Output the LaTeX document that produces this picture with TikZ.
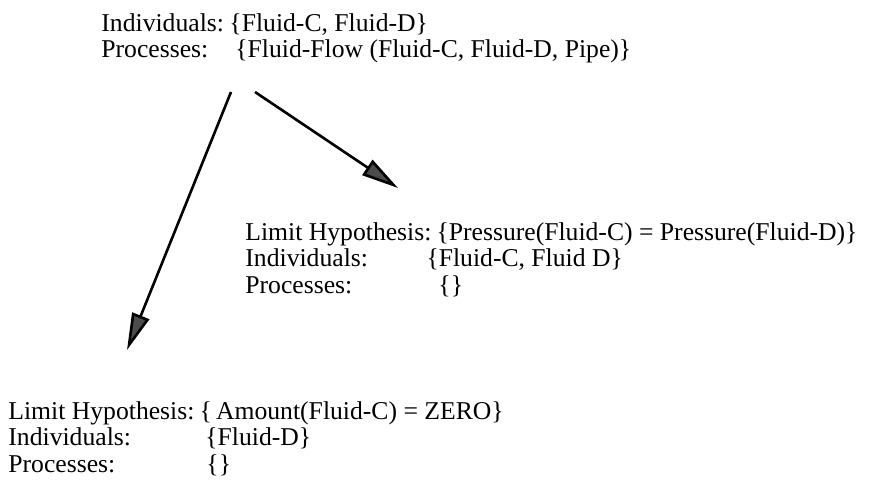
\documentclass[tikz,border=0pt]{standalone}
\usepackage{fontspec}
\setmainfont{Liberation Serif}
\usetikzlibrary{arrows.meta}
% label padded to a fixed width, so the sets line up in a column
\newcommand{\fieldlabel}[2]{\makebox[#1][l]{#2}}
\begin{document}
\begin{tikzpicture}[x=0.46pt,y=-0.46pt,
    state/.style={anchor=base west,inner sep=0pt,align=left,
      font=\fontsize{11.8}{12}\selectfont},
    branch/.style={line width=1.2pt,
      -{Triangle[length=17pt,width=8.3pt,fill=black!70]}}]
  \useasboundingbox (0,0) rectangle (885,490);
  % the three states (placed by the baseline of their last line)
  \node[state] (flow) at (101,58)
    {\fieldlabel{58.9pt}{Individuals:}\{Fluid-C, Fluid-D\}\\
     \fieldlabel{61.6pt}{Processes:}\{Fluid-Flow (Fluid-C, Fluid-D, Pipe)\}};
  \node[state] (equal) at (245,293)
    {\fieldlabel{87.9pt}{Limit Hypothesis:}\{Pressure(Fluid-C) = Pressure(Fluid-D)\}\\
     \fieldlabel{83.3pt}{Individuals:}\{Fluid-C, Fluid D\}\\
     \fieldlabel{88.8pt}{Processes:}\{\}};
  \node[state] (empty) at (8,472)
    {\fieldlabel{87.9pt}{Limit Hypothesis:}\{\,Amount(Fluid-C) = ZERO\}\\
     \fieldlabel{90.6pt}{Individuals:}\{Fluid-D\}\\
     \fieldlabel{91.1pt}{Processes:}\{\}};
  % arrow ends
  \coordinate (flowleft) at (231,92);
  \coordinate (flowright) at (255,92);
  \coordinate (equalin) at (398,188);
  \coordinate (emptyin) at (127,350);
  \draw[branch] (flowleft) -- (emptyin);
  \draw[branch] (flowright) -- (equalin);
\end{tikzpicture}
\end{document}
